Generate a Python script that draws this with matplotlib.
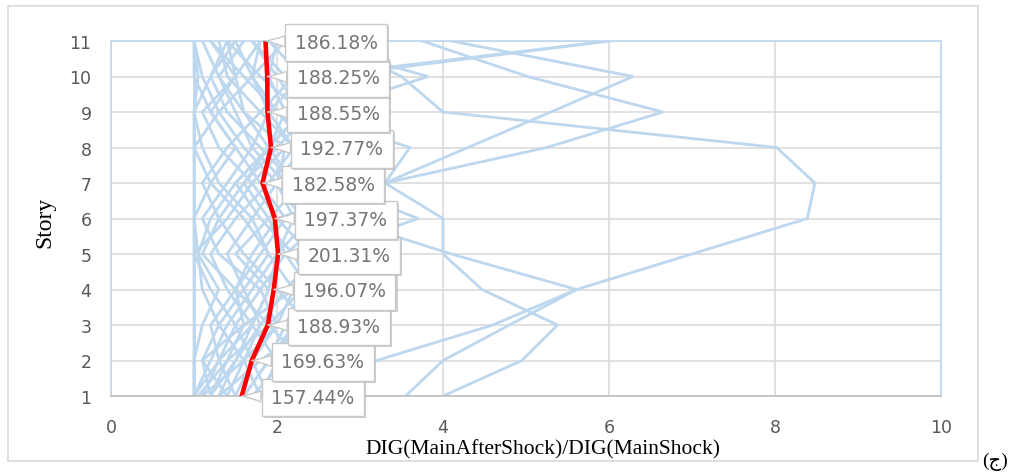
#!/usr/bin/env python3
#
# DIG ratio (main+aftershock / mainshock) per story, all records + mean
#
import matplotlib
matplotlib.use('Agg')
import matplotlib.pyplot as plt
import matplotlib.patheffects as pe
from matplotlib.patches import Rectangle

# Stories
stories = [1, 2, 3, 4, 5, 6, 7, 8, 9, 10, 11]

# Individual records (ratio per story, story 1 -> 11)
rec01 = [1.0, 1.0, 1.0, 1.0, 1.0, 1.0, 1.0, 1.0, 1.0, 1.0, 1.0]
rec02 = [1.0, 1.0, 1.0, 1.0, 1.0, 1.0, 1.0, 1.0, 1.0, 1.05, 1.0]
rec03 = [1.1, 1.3, 1.5, 1.2, 1.0, 1.4, 1.7, 1.3, 1.1, 1.5, 1.2]
rec04 = [1.6, 1.9, 2.2, 2.4, 2.2, 1.8, 1.5, 1.9, 2.3, 1.8, 1.4]
rec05 = [1.2, 1.5, 1.8, 2.1, 2.5, 2.3, 2.0, 1.6, 1.3, 1.1, 1.0]
rec06 = [2.0, 2.3, 1.9, 1.5, 1.1, 1.3, 1.6, 2.0, 2.4, 2.1, 1.7]
rec07 = [1.0, 1.2, 1.4, 1.7, 2.0, 2.4, 2.2, 1.8, 1.4, 1.2, 1.5]
rec08 = [1.4, 1.1, 1.3, 1.6, 1.9, 1.6, 1.2, 1.0, 1.3, 1.7, 2.1]
rec09 = [1.8, 1.6, 1.3, 1.1, 1.05, 1.2, 1.5, 1.9, 2.1, 1.9, 2.0]
rec10 = [1.05, 1.4, 1.9, 2.3, 2.6, 2.5, 2.1, 1.7, 1.5, 1.3, 1.1]
rec11 = [2.3, 2.0, 1.7, 1.4, 1.2, 1.5, 1.9, 2.2, 1.8, 1.4, 1.3]
rec12 = [1.3, 1.8, 2.4, 2.0, 1.6, 1.3, 1.1, 1.4, 1.8, 2.2, 2.4]
rec13 = [1.0, 1.0, 1.1, 1.3, 1.05, 1.0, 1.2, 1.5, 1.2, 1.0, 1.0]
rec14 = [1.5, 1.3, 1.2, 1.5, 1.8, 2.1, 1.8, 1.5, 1.2, 1.5, 1.8]
rec15 = [1.1, 1.6, 2.0, 1.8, 1.3, 1.1, 1.4, 1.7, 1.9, 2.3, 1.9]
rec16 = [1.2, 1.1, 1.6, 2.2, 2.4, 2.0, 1.7, 2.1, 1.6, 1.3, 1.6]
rec17 = [1.7, 2.1, 2.5, 2.2, 1.9, 1.7, 1.3, 1.1, 1.0, 1.2, 1.4]
rec18 = [1.0, 1.3, 1.7, 1.9, 1.5, 1.9, 2.3, 2.4, 2.0, 1.6, 1.2]
rec19 = [2.5, 3.2, 4.6, 5.61, 7.0, 8.39, 8.48, 8.02, 4.0, 3.5, 2.6]
rec20 = [3.55, 4.0, 4.8, 5.61, 4.1, 2.75, 2.2, 1.9, 1.6, 1.5, 1.4]
rec21 = [4.0, 4.95, 5.38, 4.47, 4.0, 4.0, 3.3, 2.5, 2.0, 1.7, 1.5]
rec22 = [1.8, 2.0, 2.2, 2.4, 2.1, 2.6, 3.3, 4.3, 5.3, 6.29, 4.1]
rec23 = [1.5, 1.7, 2.0, 2.2, 2.5, 2.8, 3.3, 5.25, 6.65, 5.02, 3.75]
rec24 = [1.3, 1.5, 1.7, 1.9, 2.0, 2.2, 2.0, 2.1, 2.5, 3.82, 2.3]
rec25 = [1.2, 1.4, 1.6, 1.5, 1.7, 2.0, 3.3, 3.6, 2.3, 2.0, 1.7]
rec26 = [1.6, 1.9, 2.1, 2.3, 2.5, 3.7, 2.6, 2.2, 1.9, 1.7, 1.8]
rec27 = [1.4, 1.6, 1.8, 1.6, 1.4, 1.7, 2.0, 2.3, 2.2, 2.4, 6.0]
rec28 = [1.9, 1.7, 1.5, 1.8, 2.1, 1.9, 1.6, 1.9, 2.3, 2.6, 6.0]

records = [rec01, rec02, rec03, rec04, rec05, rec06, rec07, rec08, rec09,
           rec10, rec11, rec12, rec13, rec14, rec15, rec16, rec17, rec18,
           rec19, rec20, rec21, rec22, rec23, rec24, rec25, rec26, rec27,
           rec28]

# Mean ratio (labelled values)
mean = [1.5744, 1.6963, 1.8893, 1.9607, 2.0131, 1.9737, 1.8258, 1.9277,
        1.8855, 1.8825, 1.8618]

xticks = [0, 2, 4, 6, 8, 10]

color_rec = '#bdd7ee'
color_mean = '#ff0000'
color_grid = '#d9d9d9'
color_tick = '#595959'
color_lab = '#767676'

W, H = 1015, 477
fig = plt.figure(figsize=(W / 100, H / 100), dpi=100)
ax = fig.add_axes([111 / W, 1 - 397 / H, 830 / W, 355 / H])

# Outer chart frame
fig.patches.append(Rectangle(
    (8 / W, 1 - 462 / H), 970 / W, 455 / H, transform=fig.transFigure,
    fill=False, ec=color_grid, lw=1.2))

for rec in records:
    ax.plot(rec, stories, color=color_rec, lw=2.0, solid_joinstyle='miter',
            zorder=2)
ax.plot(mean, stories, color=color_mean, lw=3.3, zorder=3)

# Data labels
for v, s in zip(mean, stories):
    ann = ax.annotate(
        '%.2f%%' % (v * 100), xy=(v, s), xytext=(51, -1),
        textcoords='offset points', ha='center', va='center',
        fontsize=13.5, color=color_lab, zorder=5,
        bbox=dict(boxstyle='square,pad=0.5', fc='white', ec='#c8c8c8',
                  lw=1.0),
        arrowprops=dict(arrowstyle='wedge,tail_width=0.6,shrink_factor=0.4',
                        fc='white', ec='#c8c8c8', lw=1.0,
                        shrinkA=0, shrinkB=0))
    ann.get_bbox_patch().set_path_effects([
        pe.SimplePatchShadow(offset=(1.5, -1.5), shadow_rgbFace='#b0b0b0',
                             alpha=0.6),
        pe.Normal()])

ax.set_xlim(0, 10)
ax.set_ylim(1, 11)
ax.set_xticks(xticks)
ax.set_yticks(stories)
ax.grid(True, color=color_grid, lw=1.1, zorder=0)
ax.set_axisbelow(True)
ax.tick_params(length=0, labelsize=12.5, labelcolor=color_tick)
ax.tick_params('x', pad=16)
ax.tick_params('y', pad=14)
for side in ['top', 'right', 'left']:
    ax.spines[side].set_color(color_rec)
ax.spines['left'].set_color('#c9d6e3')
ax.spines['bottom'].set_color('#bfbfbf')
for sp in ax.spines.values():
    sp.set_linewidth(1.2)

fig.text(45 / W, 1 - 222 / H, 'Story', rotation=90, ha='center',
         va='center', fontsize=17, family='Liberation Serif')
fig.text(543 / W, 1 - 450 / H, 'DIG(MainAfterShock)/DIG(MainShock)',
         ha='center', va='center', fontsize=15.5, family='Liberation Serif')
fig.text(995 / W, 1 - 462 / H, '(ج)', ha='center', va='center',
         fontsize=14, family=['Liberation Serif', 'DejaVu Sans'])

plt.savefig('out.png', dpi=100)
